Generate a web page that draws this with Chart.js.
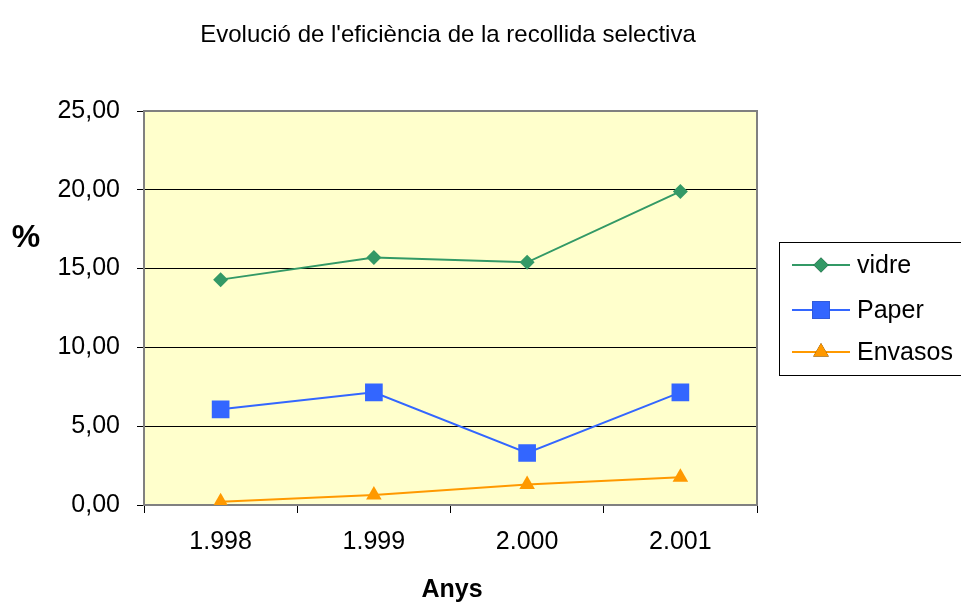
<!DOCTYPE html>
<html>
<head>
<meta charset="utf-8">
<script src="https://cdn.jsdelivr.net/npm/chart.js@4.4.1/dist/chart.umd.min.js"></script>
<style>
  html, body { margin: 0; padding: 0; background: #fff; }
  #wrap { width: 961px; height: 605px; position: relative; }
</style>
</head>
<body>
<div id="wrap"><canvas id="grafic"></canvas></div>
<script>
// Dades llegides del gràfic
const anys = ['1.998', '1.999', '2.000', '2.001'];
const vidre = [14.3, 15.7, 15.4, 19.9];
const paper = [6.07, 7.15, 3.3, 7.15];
const envasos = [0.2, 0.63, 1.3, 1.76];
const ticksY = [0, 5, 10, 15, 20, 25];

const FONT = "'Liberation Sans', Arial, sans-serif";

// Fons groc i marc de l'àrea del gràfic
const fonsPlugin = {
    id: 'fons',
    beforeDraw(chart) {
        const { ctx, chartArea: a } = chart;
        ctx.save();
        ctx.fillStyle = '#FFFFCC';
        ctx.fillRect(a.left, a.top, a.right - a.left, a.bottom - a.top);
        ctx.restore();
    },
    afterDatasetsDraw(chart) {
        const { ctx, chartArea: a } = chart;
        ctx.save();
        ctx.strokeStyle = '#808080';
        ctx.lineWidth = 2;
        ctx.beginPath();
        ctx.moveTo(a.left, a.top);
        ctx.lineTo(a.right, a.top);
        ctx.lineTo(a.right, a.bottom);
        ctx.stroke();
        ctx.restore();
    }
};

// Títols i llegenda dibuixats a mà
const textosPlugin = {
    id: 'textos',
    afterDraw(chart) {
        const { ctx, chartArea: a } = chart;
        ctx.save();
        ctx.fillStyle = '#000';
        ctx.textAlign = 'center';
        ctx.textBaseline = 'alphabetic';
        ctx.font = '24px ' + FONT;
        ctx.fillText("Evolució de l'eficiència de la recollida selectiva", 448, 42);

        ctx.font = 'bold 25px ' + FONT;
        ctx.fillText('Anys', 452, 597);
        ctx.font = 'bold 32px ' + FONT;
        ctx.fillText('%', 26, 247);

        // llegenda
        ctx.strokeStyle = '#000';
        ctx.lineWidth = 1;
        ctx.strokeRect(779.5, 242.5, 200, 133);
        const items = [
            { text: 'vidre', ds: 0, y: 265 },
            { text: 'Paper', ds: 1, y: 310 },
            { text: 'Envasos', ds: 2, y: 352 }
        ];
        ctx.textAlign = 'left';
        ctx.textBaseline = 'middle';
        ctx.font = '25px ' + FONT;
        items.forEach(it => {
            const ds = chart.data.datasets[it.ds];
            ctx.strokeStyle = ds.borderColor;
            ctx.lineWidth = 2;
            ctx.beginPath();
            ctx.moveTo(792, it.y);
            ctx.lineTo(850, it.y);
            ctx.stroke();
            Chart.helpers.drawPoint(ctx, {
                pointStyle: ds.pointStyle,
                radius: ds.pointRadius,
                rotation: 0,
                borderWidth: 0
            }, 821, it.y);
            ctx.fillStyle = ds.pointBackgroundColor;
            ctx.fill();
            ctx.fillStyle = '#000';
            ctx.fillText(it.text, 857, it.y + 1);
        });
        ctx.restore();
    }
};

new Chart(document.getElementById('grafic'), {
    type: 'line',
    data: {
        labels: anys,
        datasets: [
            {
                label: 'vidre',
                data: vidre,
                borderColor: '#339966',
                backgroundColor: '#339966',
                pointBackgroundColor: '#339966',
                pointBorderWidth: 0,
                pointStyle: 'rectRot',
                pointRadius: 7.5,
                borderWidth: 2
            },
            {
                label: 'Paper',
                data: paper,
                borderColor: '#3366FF',
                backgroundColor: '#3366FF',
                pointBackgroundColor: '#3366FF',
                pointBorderWidth: 0,
                pointStyle: 'rect',
                pointRadius: 12.5,
                borderWidth: 2
            },
            {
                label: 'Envasos',
                data: envasos,
                borderColor: '#FF9900',
                backgroundColor: '#FF9900',
                pointBackgroundColor: '#FF9900',
                pointBorderWidth: 0,
                pointStyle: 'triangle',
                pointRadius: 9,
                borderWidth: 2
            }
        ]
    },
    options: {
        responsive: true,
        maintainAspectRatio: false,
        animation: false,
        events: [],
        layout: { padding: { top: 111, right: 204, left: 0, bottom: 0 } },
        plugins: {
            legend: { display: false },
            title: { display: false },
            tooltip: { enabled: false }
        },
        scales: {
            x: {
                offset: true,
                afterFit(scale) { scale.height = 100; },
                grid: {
                    offset: true,
                    drawOnChartArea: false,
                    drawTicks: true,
                    tickLength: 8,
                    color: '#000'
                },
                border: { color: '#808080', width: 2 },
                ticks: {
                    color: '#000',
                    padding: 14,
                    font: { family: FONT, size: 25 }
                }
            },
            y: {
                min: 0,
                max: 25,
                afterFit(scale) { scale.width = 144; },
                afterBuildTicks(scale) { scale.ticks = ticksY.map(v => ({ value: v })); },
                grid: {
                    color: '#000',
                    lineWidth: 1,
                    drawTicks: true,
                    tickLength: 7
                },
                border: { color: '#808080', width: 2 },
                ticks: {
                    color: '#000',
                    padding: 17,
                    font: { family: FONT, size: 25 },
                    callback: v => v.toFixed(2).replace('.', ',')
                }
            }
        }
    },
    plugins: [fonsPlugin, textosPlugin]
});
</script>
</body>
</html>
